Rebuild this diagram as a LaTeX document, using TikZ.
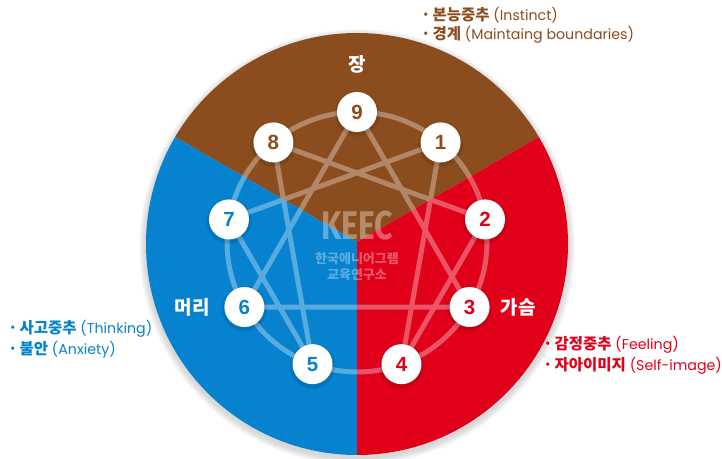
\documentclass[tikz,border=0pt]{standalone}
\usepackage{fontspec}
\usetikzlibrary{calc}
\setmainfont{Poppins}
\newfontfamily\kr{Noto Sans CJK KR}
\newfontfamily\numf{Liberation Sans}
\newfontfamily\keecf{Fira Sans}
\definecolor{brn}{HTML}{8C4D1E}
\definecolor{blu}{HTML}{0682CF}
\definecolor{rd}{HTML}{E00019}
\tikzset{
  numnode/.style={circle, fill=white, minimum size=40pt, inner sep=0pt,
    font=\numf\bfseries\fontsize{20.5}{20}\selectfont},
  zone/.style={text=white, font=\kr\bfseries\fontsize{19}{19}\selectfont},
  listitem/.style={anchor=west, inner sep=0pt, font=\fontsize{14.2}{16}\selectfont},
  enline/.style={white, line width=5pt},
  wmark/.style={text=white, opacity=0.35, font=\kr\bfseries\fontsize{13}{13}\selectfont}
}
\newcommand{\kitem}[2]{{\kr\bfseries\fontsize{15.5}{16}\selectfont ·\hspace{2pt}#1} #2}
\begin{document}
\begin{tikzpicture}[x=1pt,y=1pt]
\useasboundingbox (0,0) rectangle (722,458);
\coordinate (c) at (357,216);
\coordinate (bc) at (357,214);
% soft shadow of the big disc
\foreach \i in {1,...,7}
  \fill[black, opacity=0.025] ([yshift=-3pt]bc) circle ({211+\i});
\begin{scope}
  \clip (bc) circle (211);
  \fill[brn] (c) -- +(30:420) -- +(90:420) -- +(150:420) -- cycle;
  \fill[blu] (c) -- +(150:420) -- +(210:420) -- +(270:420) -- cycle;
  \fill[rd]  (c) -- +(270:420) -- +(330:420) -- +(30:420) -- cycle;
\end{scope}
% enneagram points
\foreach \k in {1,...,9}
  \coordinate (p\k) at ($(c)+({90-40*\k}:130)$);
% watermark
\node[text=white, opacity=0.35, font=\keecf\bfseries\fontsize{40}{40}\selectfont, xscale=0.8] (keec) at (357,232) {KEEC};
\node[wmark] (wm1) at (357,199) {한국에니어그램};
\node[wmark] (wm2) at (357,183) {교육연구소};
% enneagram figure
\begin{scope}[transparency group, opacity=0.33]
  \draw[enline] (c) circle (130);
  \draw[enline, line join=round] (p9.center) -- (p3.center) -- (p6.center) -- cycle;
  \draw[enline, line join=round] (p1.center) -- (p4.center) -- (p2.center) -- (p8.center) -- (p5.center) -- (p7.center) -- cycle;
\end{scope}
% node shadows
\foreach \k in {1,...,9}{
  \fill[black, opacity=0.06] ([yshift=-2pt]p\k) circle (23);
  \fill[black, opacity=0.06] ([yshift=-2pt]p\k) circle (21.5);
}
\node[numnode, text=brn] (n9) at (p9) {9};
\node[numnode, text=brn] (n8) at (p8) {8};
\node[numnode, text=brn] (n1) at (p1) {1};
\node[numnode, text=rd] (n2) at (p2) {2};
\node[numnode, text=rd] (n3) at (p3) {3};
\node[numnode, text=rd] (n4) at (p4) {4};
\node[numnode, text=blu] (n5) at (p5) {5};
\node[numnode, text=blu] (n6) at (p6) {6};
\node[numnode, text=blu] (n7) at (p7) {7};
% zone labels
\node[zone] (jang) at (357,394) {장};
\node[zone] (meori) at (192,151) {머리};
\node[zone] (gaseum) at (518,151) {가슴};
% lists
\node[listitem, text=brn] (b1) at (421,443) {\kitem{본능중추}{(Instinct)}};
\node[listitem, text=brn] (b2) at (421,423) {\kitem{경계}{(Maintaing boundaries)}};
\node[listitem, text=blu] (l1) at (8,129) {\kitem{사고중추}{(Thinking)}};
\node[listitem, text=blu] (l2) at (8,108) {\kitem{불안}{(Anxiety)}};
\node[listitem, text=rd] (r1) at (543,113) {\kitem{감정중추}{(Feeling)}};
\node[listitem, text=rd] (r2) at (543,92) {\kitem{자아이미지}{(Self-image)}};
\end{tikzpicture}
\end{document}
